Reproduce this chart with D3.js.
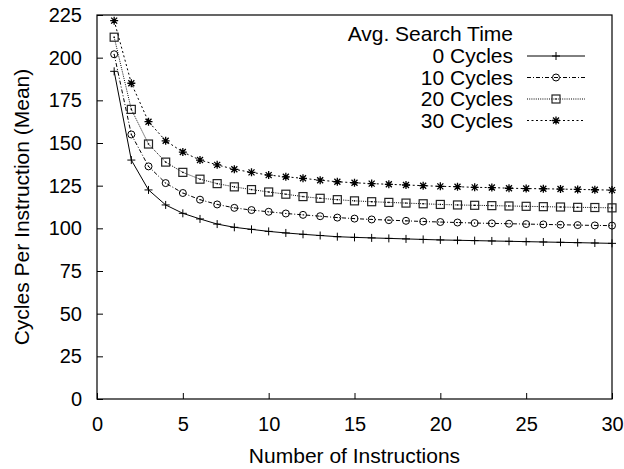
<!DOCTYPE html>
<html>
<head>
<meta charset="utf-8">
<script src="https://cdn.jsdelivr.net/npm/d3@7"></script>
<style>
  body { margin: 0; background: #fff; }
  svg text { font-family: "Liberation Sans", Arial, Helvetica, sans-serif; fill: #000; }
</style>
</head>
<body>
<svg id="chart" width="624" height="469"></svg>
<script>
// values (x = number of instructions 1..30)
const instructions = d3.range(1, 31);
const cycles0 = [192, 140, 122.5, 113.7, 108.8, 105.5, 102.5, 100.6, 99.4, 98.2, 97.3, 96.5, 95.8,
  95.1, 94.7, 94.4, 94.1, 93.8, 93.5, 93.2, 93.0, 92.8, 92.6, 92.4, 92.2, 92.0, 91.8, 91.6, 91.4, 91.2];
const cycles10 = [202, 155, 136.3, 126.5, 120.7, 116.8, 114, 112, 110.7, 109.7, 108.7, 107.9, 107.1,
  106.3, 105.7, 105.2, 104.8, 104.4, 104, 103.7, 103.4, 103.1, 102.9, 102.7, 102.5, 102.3, 102.1, 101.9, 101.7, 101.6];
const cycles20 = [212, 169.7, 149.4, 138.8, 132.8, 128.8, 126.2, 124.3, 122.7, 121.3, 120.0, 118.6, 117.6,
  116.8, 116.1, 115.6, 115.2, 114.8, 114.4, 114.0, 113.7, 113.5, 113.3, 113.1, 112.9, 112.7, 112.5, 112.3, 112.2, 112.0];
const cycles30 = [221.7, 185, 162.5, 151.3, 144.7, 140, 137.2, 134.6, 132.8, 131.2, 130.2, 129.3, 128.2,
  127.3, 126.7, 126.2, 125.8, 125.4, 125.0, 124.6, 124.4, 124.0, 123.9, 123.5, 123.3, 123.2, 123.0, 122.8, 122.6, 122.4];

const seriesNames = ["0 Cycles", "10 Cycles", "20 Cycles", "30 Cycles"];
const xTicks = [0, 5, 10, 15, 20, 25, 30];
const yTicks = [0, 25, 50, 75, 100, 125, 150, 175, 200, 225];

const series = [
  { name: seriesNames[0], values: cycles0, dash: null, marker: "plus" },
  { name: seriesNames[1], values: cycles10, dash: "4,2,1,2", marker: "circle" },
  { name: seriesNames[2], values: cycles20, dash: "1,1.2", marker: "square" },
  { name: seriesNames[3], values: cycles30, dash: "2,2.5", marker: "star" }
];

const svg = d3.select("#chart");
const margin = { left: 97, right: 12, top: 15, bottom: 70 };
const width = 624, height = 469;
const fontSize = 20;

const x = d3.scaleLinear().domain([0, 30]).range([margin.left, width - margin.right]);
const y = d3.scaleLinear().domain([0, 225]).range([height - margin.bottom, margin.top]);

// axes (gnuplot style: inward ticks, full border)
const xAxis = svg.append("g")
  .attr("transform", `translate(0,${y(0)})`)
  .call(d3.axisBottom(x).tickValues(xTicks).tickSize(-6).tickPadding(21).tickFormat(d3.format("d")));
const yAxis = svg.append("g")
  .attr("transform", `translate(${x(0)},0)`)
  .call(d3.axisLeft(y).tickValues(yTicks).tickSize(-6).tickPadding(15).tickFormat(d3.format("d")));

[xAxis, yAxis].forEach(g => {
  g.select(".domain").remove();
  g.selectAll(".tick line").attr("stroke", "#000").attr("stroke-width", 1);
  g.selectAll(".tick text").style("font-size", fontSize + "px").attr("fill", "#000");
});
xAxis.selectAll(".tick text").attr("dy", "0.55em");

svg.append("rect")
  .attr("x", x(0)).attr("y", y(225))
  .attr("width", x(30) - x(0)).attr("height", y(0) - y(225))
  .attr("fill", "none").attr("stroke", "#000").attr("stroke-width", 1.2);

// axis titles
svg.append("text")
  .attr("x", (x(0) + x(30)) / 2).attr("y", 463)
  .attr("text-anchor", "middle")
  .style("font-size", "21px")
  .text("Number of Instructions");

svg.append("text")
  .attr("transform", `translate(29,${(y(0) + y(225)) / 2}) rotate(-90)`)
  .attr("text-anchor", "middle")
  .style("font-size", "21px")
  .text("Cycles Per Instruction (Mean)");

// marker drawing
function drawMarker(g, type, cx, cy) {
  if (type === "plus") {
    g.append("path").attr("d", `M${cx - 4},${cy}H${cx + 4}M${cx},${cy - 4}V${cy + 4}`)
      .attr("stroke", "#000").attr("stroke-width", 1);
  } else if (type === "circle") {
    g.append("circle").attr("cx", cx).attr("cy", cy).attr("r", 3.5)
      .attr("fill", "none").attr("stroke", "#000").attr("stroke-width", 1);
    g.append("circle").attr("cx", cx).attr("cy", cy).attr("r", 0.6).attr("fill", "#000");
  } else if (type === "square") {
    g.append("rect").attr("x", cx - 4).attr("y", cy - 4).attr("width", 8).attr("height", 8)
      .attr("fill", "none").attr("stroke", "#222").attr("stroke-width", 1.2);
    g.append("rect").attr("x", cx - 0.7).attr("y", cy - 0.7).attr("width", 1.4).attr("height", 1.4).attr("fill", "#000");
  } else if (type === "star") {
    g.append("path")
      .attr("d", `M${cx - 4},${cy}H${cx + 4}M${cx},${cy - 4}V${cy + 4}M${cx - 3},${cy - 3}L${cx + 3},${cy + 3}M${cx - 3},${cy + 3}L${cx + 3},${cy - 3}`)
      .attr("stroke", "#000").attr("stroke-width", 1.3);
  }
}

const line = d3.line()
  .x((d, i) => x(instructions[i]))
  .y(d => y(d));

series.forEach(s => {
  const g = svg.append("g");
  g.append("path")
    .attr("d", line(s.values))
    .attr("fill", "none")
    .attr("stroke", "#000")
    .attr("stroke-width", 1)
    .attr("stroke-dasharray", s.dash);
  s.values.forEach((v, i) => drawMarker(g, s.marker, x(instructions[i]), y(v)));
});

// legend
const legend = svg.append("g");
const legendRight = 513;
const legendFont = 21;
legend.append("text")
  .attr("x", legendRight).attr("y", 41)
  .attr("text-anchor", "end")
  .style("font-size", legendFont + "px")
  .text("Avg. Search Time");

series.forEach((s, i) => {
  const base = 63 + i * 21.5;
  const cy = base - 7;
  legend.append("text")
    .attr("x", legendRight).attr("y", base)
    .attr("text-anchor", "end")
    .style("font-size", legendFont + "px")
    .text(s.name);
  legend.append("line")
    .attr("x1", 527).attr("x2", 585).attr("y1", cy).attr("y2", cy)
    .attr("stroke", "#000").attr("stroke-width", 1)
    .attr("stroke-dasharray", s.dash);
  drawMarker(legend, s.marker, 556, cy);
});
</script>
</body>
</html>
